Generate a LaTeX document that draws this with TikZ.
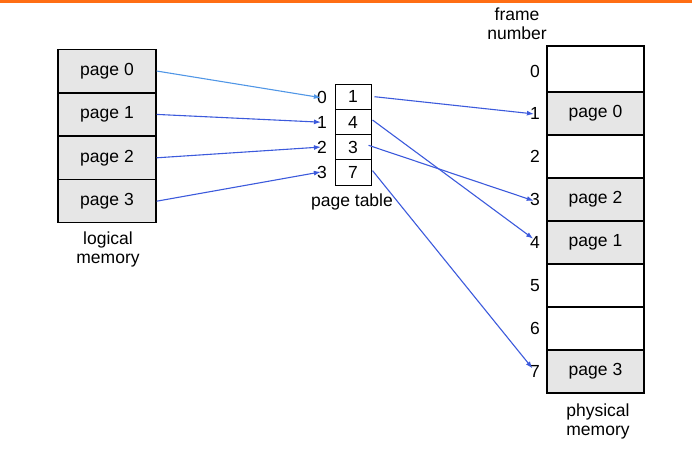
\documentclass[tikz,border=0pt]{standalone}
\usepackage{fontspec}
\setmainfont{Liberation Sans}
\usetikzlibrary{arrows.meta}

\definecolor{cellgray}{RGB}{230,230,230}
\definecolor{arrowblue}{RGB}{60,90,220}
\definecolor{lightblue}{RGB}{80,150,230}
\definecolor{topline}{RGB}{255,110,20}

\begin{document}
\begin{tikzpicture}[x=1pt, y=-1pt, font=\fontsize{17.5}{19}\selectfont,
  page/.style={draw, line width=1.2pt, fill=cellgray, minimum width=98pt, minimum height=43pt, inner sep=0pt},
  frame/.style={draw, line width=1.2pt, fill=white, minimum width=97pt, minimum height=43pt, inner sep=0pt},
  entry/.style={draw, line width=1pt, minimum width=36pt, minimum height=25.3pt, inner sep=0pt},
  num/.style={inner sep=0pt},
  map/.style={arrowblue, line width=1.1pt, -{Latex[length=7pt,width=5pt]}, shorten >=-4pt}]
\useasboundingbox (0,0) rectangle (692,451);
\fill[topline] (0,0) rectangle (692,2.5);

% logical memory
\node[page] (lp0) at (107,71) {page 0};
\node[page] (lp1) at (107,114.4) {page 1};
\node[page] (lp2) at (107,157.8) {page 2};
\node[page] (lp3) at (107,201.2) {page 3};
\node[align=center] (lm) at (108,249) {logical\\memory};

% page table
\node[entry] (e0) at (353,96.7) {1};
\node[entry] (e1) at (353,122) {4};
\node[entry] (e2) at (353,147.3) {3};
\node[entry] (e3) at (353,172.6) {7};
\node[num] (i0) at (322,97) {0};
\node[num] (i1) at (322,122) {1};
\node[num] (i2) at (322,147.3) {2};
\node[num] (i3) at (322,172.6) {3};
\node (pt) at (352,202) {page table};

% physical memory
\node[frame, minimum height=46pt] (p0) at (595.5,69) {};
\node[page, minimum width=97pt] (p1) at (595.5,113.5) {page 0};
\node[frame] (p2) at (595.5,156.5) {};
\node[page, minimum width=97pt] (p3) at (595.5,199.5) {page 2};
\node[page, minimum width=97pt] (p4) at (595.5,242.5) {page 1};
\node[frame] (p5) at (595.5,285.5) {};
\node[frame] (p6) at (595.5,328.5) {};
\node[page, minimum width=97pt] (p7) at (595.5,371.5) {page 3};
\node[num] (f0) at (535,71) {0};
\foreach \i in {1,...,7}
  \node[num] (f\i) at (535,70.5+43*\i) {\i};
\node[align=center] (fn) at (517,24) {frame\\number};
\node[align=center] (pm) at (598,421) {physical\\memory};

% mappings
\draw[map, lightblue] (lp0.east) -- (i0.west);
\draw[map] (lp1.east) -- (i1.west);
\draw[map] (lp2.east) -- (i2.west);
\draw[map] (lp3.east) -- (i3.west);
\draw[map] ([xshift=3pt]e0.east) -- (f1.west);
\draw[map] ([xshift=1pt,yshift=2pt]e1.east) -- (f4.north west);
\draw[map] ([xshift=-3pt,yshift=2pt]e2.east) -- (f3.west);
\draw[map] ([xshift=1pt,yshift=2pt]e3.east) -- (f7.north west);
\end{tikzpicture}
\end{document}
